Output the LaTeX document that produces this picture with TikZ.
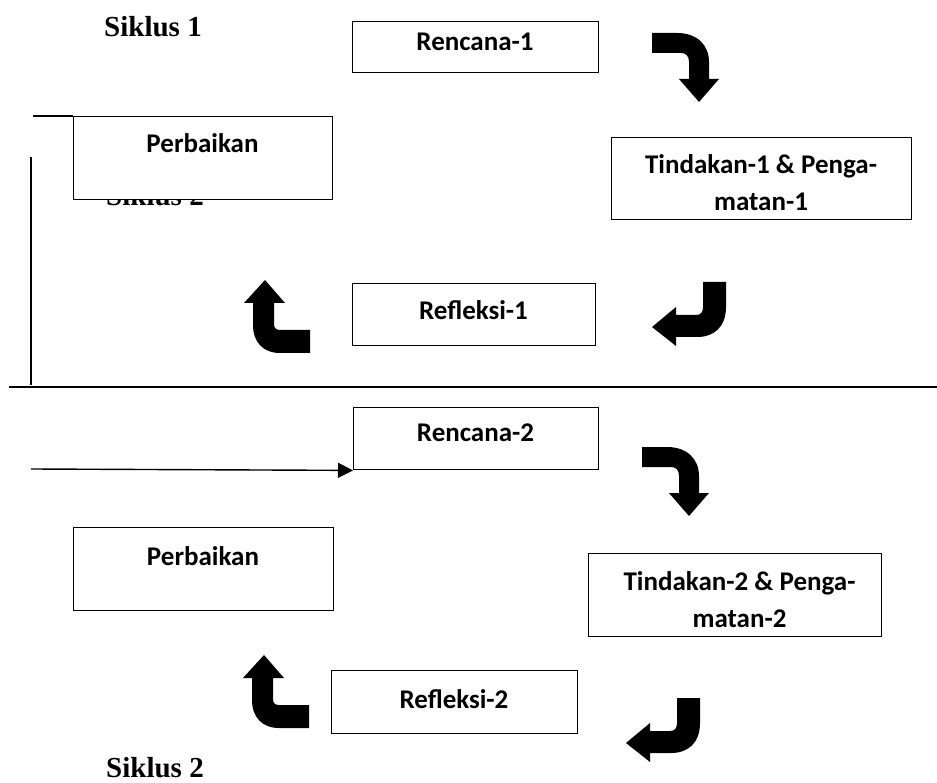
\documentclass[tikz,border=0pt]{standalone}
\usepackage{fontspec}
\setmainfont{Liberation Serif}
\newfontfamily\boxfont{Carlito}
\newfontfamily\sikfont{Liberation Serif}
\usetikzlibrary{arrows.meta}
\begin{document}
\begin{tikzpicture}[x=1pt,y=-1pt,
  stepbox/.style={draw, line width=1.4pt, fill=white, inner sep=0pt, anchor=north west},
  btxt/.style={font=\boxfont\bfseries\fontsize{27}{32}\selectfont, anchor=base, inner sep=0pt},
  sik/.style={font=\sikfont\bfseries\fontsize{29}{34}\selectfont, anchor=base, inner sep=0pt},
  ln/.style={line width=1.4pt},
  bigarrow/.style={fill=black}]
\useasboundingbox (0,0) rectangle (937,783);

% hidden Siklus 2 (behind box)
\node[sik] (s2h) at (155,206) {Siklus 2};

% boxes
\node[stepbox, minimum width=246pt, minimum height=51pt] (r1) at (352,21) {};
\node[stepbox, minimum width=300pt, minimum height=82pt] (t1) at (611,137) {};
\node[stepbox, minimum width=259pt, minimum height=83pt] (p1) at (73,116) {};
\node[stepbox, minimum width=243pt, minimum height=62pt] (f1) at (352,283) {};
\node[stepbox, minimum width=245pt, minimum height=62pt] (r2) at (353,407) {};
\node[stepbox, minimum width=260pt, minimum height=83pt] (p2) at (73,527) {};
\node[stepbox, minimum width=293pt, minimum height=83pt] (t2) at (588,553) {};
\node[stepbox, minimum width=246pt, minimum height=63pt] (f2) at (331,670) {};

% texts
\node[sik] (s1) at (153,37) {Siklus 1};
\node[sik] (s2) at (155,777) {Siklus 2};
\node[btxt] (r1t) at (475,51) {Rencana-1};
\node[btxt] (p1t) at (202.5,153) {Perbaikan};
\node[btxt] (t1a) at (761,174) {Tindakan-1 \& Penga-};
\node[btxt] (t1b) at (761,211) {matan-1};
\node[btxt] (f1t) at (473.5,320) {Refleksi-1};
\node[btxt] (r2t) at (475.5,441) {Rencana-2};
\node[btxt] (p2t) at (203,565) {Perbaikan};
\node[btxt] (t2a) at (739.5,590) {Tindakan-2 \& Penga-};
\node[btxt] (t2b) at (739.5,627) {matan-2};
\node[btxt] (f2t) at (454,708) {Refleksi-2};

% lines
\coordinate (lt) at (33,116);
\coordinate (va) at (31,157);
\coordinate (vb) at (31,385);
\coordinate (hl) at (9,387);
\coordinate (hr) at (937,387);
\coordinate (a0) at (31,469);
\draw[ln] (lt) -- (p1.north west);
\draw[ln] (va) -- (vb);
\draw[ln] (hl) -- (hr);
\draw[ln, -{Triangle[length=15pt,width=15pt]}] (a0) -- (r2.south west);

% right-down bent arrows (apex at origin)
\foreach \px/\py in {699/102, 689/516}{
\fill[bigarrow, shift={(\px,\py)}] (-47,-69) -- (-22,-69) .. controls (-2,-69) and (10,-57) .. (10,-40) -- (10,-23) -- (20,-23) -- (0,0) -- (-20,-23) -- (-10,-23) -- (-10,-40) .. controls (-10,-46) and (-13,-49) .. (-18,-49) -- (-47,-49) -- cycle;
}
% left-up bent arrows
\foreach \px/\py in {265/280, 264/655}{
\fill[bigarrow, shift={(\px,\py)}] (0,0) -- (20,23) -- (9,23) -- (9,44) .. controls (9,48) and (11,50) .. (15,50) -- (45,50) -- (45,73) -- (15,73) .. controls (-2,73) and (-12,62) .. (-12,45) -- (-12,23) -- (-21,23) -- cycle;
}
% J arrows
\foreach \px/\py in {652/327, 626/743}{
\fill[bigarrow, shift={(\px,\py)}] (0,0) -- (24,-20) -- (24,-12) -- (44,-12) .. controls (49,-12) and (51,-15) .. (51,-20) -- (51,-45) -- (74,-45) -- (74,-20) .. controls (74,0) and (62,10) .. (45,10) -- (24,10) -- (24,19) -- cycle;
}
\end{tikzpicture}
\end{document}
